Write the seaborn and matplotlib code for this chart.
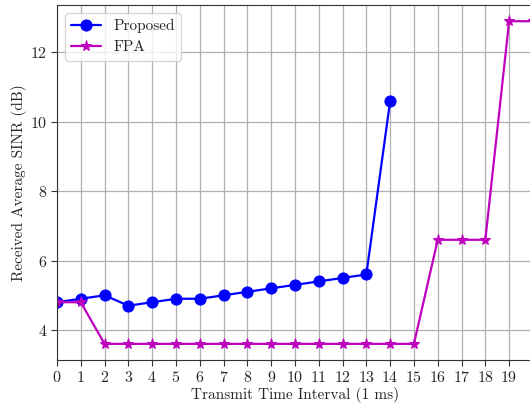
import pandas as pd
import matplotlib
matplotlib.use("Agg")
import matplotlib.pyplot as plt
import seaborn as sns

# data
tti_proposed = list(range(15))
sinr_proposed = [4.8, 4.9, 5.0, 4.7, 4.8, 4.9, 4.9, 5.0, 5.1, 5.2, 5.3, 5.4, 5.5, 5.6, 10.6]
tti_fpa = list(range(21))
sinr_fpa = [4.8, 4.8, 3.6, 3.6, 3.6, 3.6, 3.6, 3.6, 3.6, 3.6, 3.6, 3.6, 3.6, 3.6, 3.6, 3.6,
            6.6, 6.6, 6.6, 12.9, 12.9]
x_ticks = list(range(20))

df_prop = pd.DataFrame({"tti": tti_proposed, "sinr": sinr_proposed})
df_fpa = pd.DataFrame({"tti": tti_fpa, "sinr": sinr_fpa})

sns.set_style("whitegrid", {"grid.color": "#b0b0b0", "axes.edgecolor": "#333333"})
plt.rcParams['font.family'] = 'serif'
plt.rcParams['font.serif'] = ['cmr10']
plt.rcParams['mathtext.fontset'] = 'cm'
plt.rcParams['axes.formatter.use_mathtext'] = True

fig = plt.figure(figsize=(5.3, 4.07), dpi=100)
ax = fig.add_axes([0.1075, 0.1155, 0.898, 0.872])

sns.lineplot(x="tti", y="sinr", data=df_prop, color="b", marker="o", markersize=8,
             markeredgecolor="b", linewidth=1.6, label="Proposed", ax=ax)
sns.lineplot(x="tti", y="sinr", data=df_fpa, color="m", marker="*", markersize=8,
             markeredgecolor="m", linewidth=1.6, label="FPA", ax=ax)

ax.set_xlim(0, 20)
ax.set_ylim(3.135, 13.365)
ax.set_xticks(x_ticks)
ax.set_yticks([4, 6, 8, 10, 12])
ax.tick_params(axis="both", labelsize=11.5, length=4, width=0.8, color="#333333",
               bottom=True, left=True, pad=3)
ax.grid(True, linewidth=0.9)
ax.set_xlabel("Transmit Time Interval (1 ms)", fontsize=11, labelpad=2)
ax.set_ylabel("Received Average SINR (dB)", fontsize=11, labelpad=2)
ax.legend(loc="upper left", fontsize=11, frameon=True, fancybox=True, framealpha=0.8)

fig.savefig("out.png", dpi=100)
